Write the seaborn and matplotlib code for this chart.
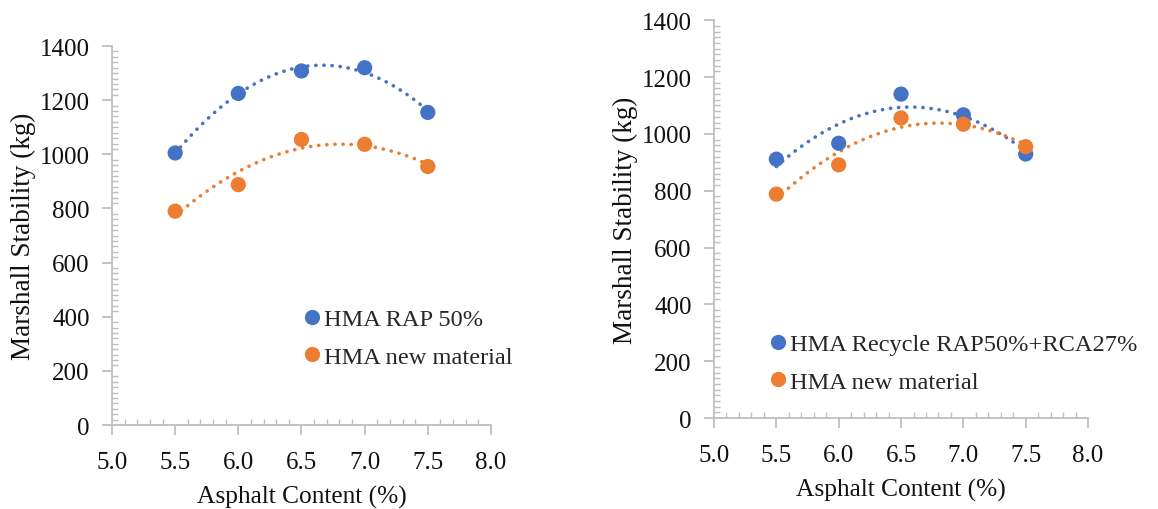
import numpy as np
import pandas as pd
import matplotlib
matplotlib.use('Agg')
import matplotlib.pyplot as plt
from matplotlib.ticker import MultipleLocator
import seaborn as sns

asphalt = [5.5, 6.0, 6.5, 7.0, 7.5]

# left panel
rap50 = [1005, 1225, 1308, 1320, 1155]
new_left = [790, 888, 1055, 1037, 955]
# right panel
recycle = [911, 967, 1140, 1067, 929]
new_right = [788, 891, 1056, 1034, 955]

labels_left = ['HMA RAP 50%', 'HMA new material']
labels_right = ['HMA Recycle RAP50%+RCA27%', 'HMA new material']

blue = '#4472C4'
orange = '#ED7D31'
grey = '#BFBFBF'

sns.set_style('white')
plt.rcParams['font.family'] = ['Liberation Serif', 'DejaVu Serif']

fig = plt.figure(figsize=(11.58, 5.10), dpi=100)
ax1 = fig.add_axes([0.0967, 0.1647, 0.3273, 0.743])
ax2 = fig.add_axes([0.6166, 0.1784, 0.3230, 0.780])


def draw(ax, series, labels, leg_pos):
    df = pd.DataFrame({
        'x': asphalt * 2,
        'y': series[0] + series[1],
        'series': [labels[0]] * 5 + [labels[1]] * 5,
    })
    for lab, col in zip(labels, [blue, orange]):
        sub = df[df.series == lab]
        sns.regplot(data=sub, x='x', y='y', order=2, ci=None, scatter=False, ax=ax,
                    truncate=True,
                    line_kws=dict(color=col, linestyle=(0, (0.05, 2.2)), linewidth=2.6,
                                  dash_capstyle='round'))
    sns.scatterplot(data=df, x='x', y='y', hue='series', palette=[blue, orange],
                    s=120, edgecolor='none', ax=ax, zorder=3, legend=True)

    ax.set_xlim(5.0, 8.0)
    ax.set_ylim(0, 1400)
    ax.xaxis.set_major_locator(MultipleLocator(0.5))
    ax.xaxis.set_minor_locator(MultipleLocator(0.1))
    ax.yaxis.set_major_locator(MultipleLocator(200))
    ax.yaxis.set_minor_locator(MultipleLocator(20))
    ax.xaxis.set_major_formatter(matplotlib.ticker.FormatStrFormatter('%.1f'))
    for s in ['top', 'right']:
        ax.spines[s].set_visible(False)
    for s in ['left', 'bottom']:
        ax.spines[s].set_color(grey)
        ax.spines[s].set_linewidth(1.3)
    ax.tick_params(which='major', direction='out', length=7, width=1.3, color=grey,
                   labelsize=18, labelcolor='#111111', left=True, bottom=True)
    ax.tick_params(axis='y', which='major', pad=9)
    ax.tick_params(axis='x', which='major', pad=12)
    ax.tick_params(which='minor', direction='in', length=4, width=1.0, color=grey,
                   left=True, bottom=True)
    ax.set_xlabel('Asphalt Content (%)', fontsize=18.3, labelpad=8, color='#111111')
    ax.set_ylabel('Marshall Stability (kg)', fontsize=19.5, labelpad=3, color='#111111')

    handles, labs = ax.get_legend_handles_labels()
    ax.legend(handles, labs, loc='upper left', bbox_to_anchor=leg_pos,
              bbox_transform=fig.transFigure, frameon=False, fontsize=17.6,
              handletextpad=0.1, labelspacing=0.64, markerscale=1.0,
              borderpad=0, borderaxespad=0, handlelength=0.8)


draw(ax1, [rap50, new_left], labels_left, (0.261, 0.394))
draw(ax2, [recycle, new_right], labels_right, (0.663, 0.345))

fig.savefig('out.png', dpi=100)
